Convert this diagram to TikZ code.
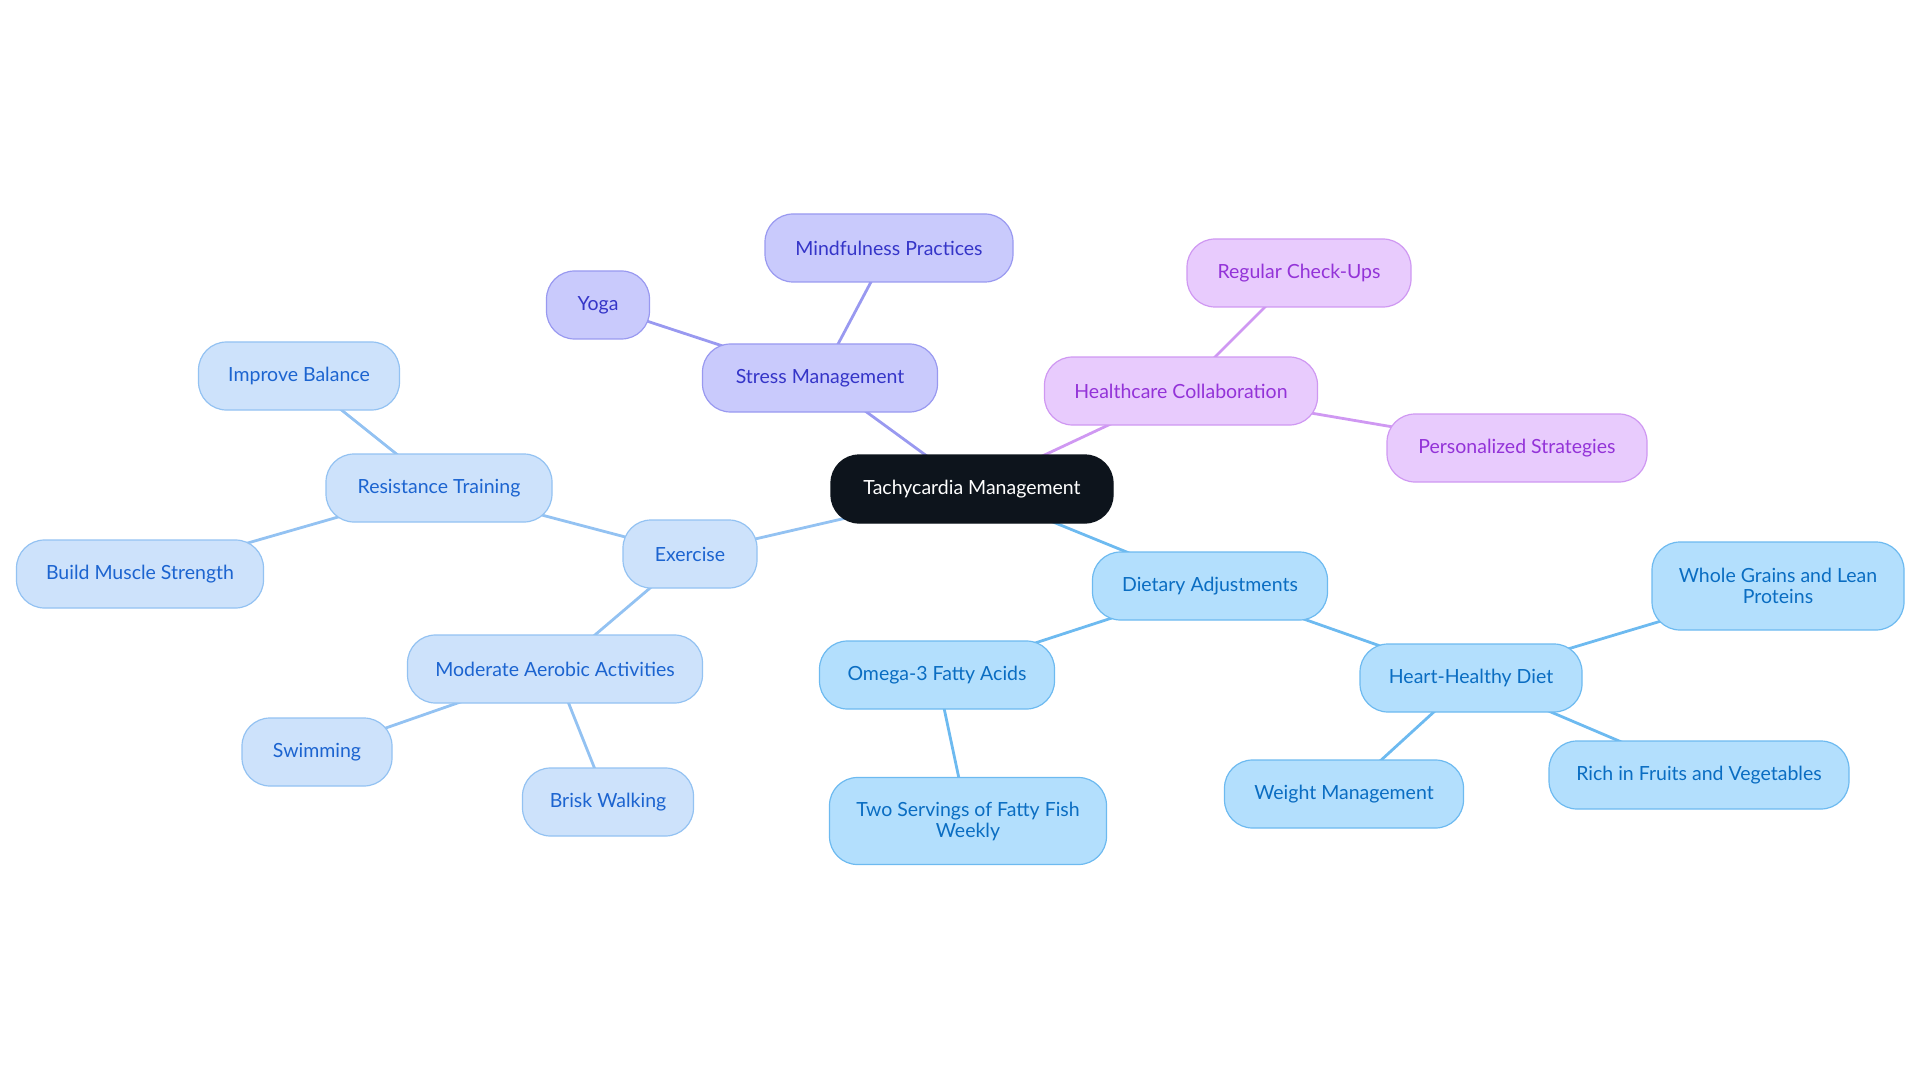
\documentclass[tikz,border=0pt]{standalone}
\usepackage{fontspec}
\setmainfont{Lato}
\usetikzlibrary{backgrounds}
\definecolor{exfill}{HTML}{CDE2FB}
\definecolor{exline}{HTML}{93C2F2}
\definecolor{extext}{HTML}{1C64D0}
\definecolor{dafill}{HTML}{B3DFFD}
\definecolor{daline}{HTML}{6DBAF0}
\definecolor{datext}{HTML}{0A6DC2}
\definecolor{smfill}{HTML}{C9CAFC}
\definecolor{smline}{HTML}{9999F0}
\definecolor{smtext}{HTML}{3535C8}
\definecolor{hcfill}{HTML}{E8CBFD}
\definecolor{hcline}{HTML}{CF98F2}
\definecolor{hctext}{HTML}{9333D8}
\definecolor{rootfill}{HTML}{0D141C}
\tikzset{
  box/.style={rounded corners=28pt, line width=1.2pt, minimum height=68pt, inner sep=0pt,
    font=\fontsize{19.5}{21}\selectfont, align=center},
  exbox/.style={box, fill=exfill, draw=exline, text=extext},
  dabox/.style={box, fill=dafill, draw=daline, text=datext},
  smbox/.style={box, fill=smfill, draw=smline, text=smtext},
  hcbox/.style={box, fill=hcfill, draw=hcline, text=hctext},
  rootbox/.style={box, fill=rootfill, draw=rootfill, text=white},
  link/.style={line width=2.8pt},
  exlink/.style={link, draw=exline},
  dalink/.style={link, draw=daline},
  smlink/.style={link, draw=smline},
  hclink/.style={link, draw=hcline},
}
\begin{document}
\begin{tikzpicture}[x=1pt,y=-1pt]
\useasboundingbox (0,0) rectangle (1920,1083);
\node[rootbox, minimum width=282pt] (tm) at (972,489) {Tachycardia Management};
\node[smbox, minimum width=235pt] (sm) at (820,378) {Stress Management};
\node[smbox, minimum width=248pt] (mp) at (889,248) {Mindfulness Practices};
\node[smbox, minimum width=103pt] (yoga) at (598,305) {Yoga};
\node[hcbox, minimum width=273pt] (hc) at (1181,391) {Healthcare Collaboration};
\node[hcbox, minimum width=224pt] (rc) at (1299,273) {Regular Check-Ups};
\node[hcbox, minimum width=260pt] (ps) at (1517,448) {Personalized Strategies};
\node[dabox, minimum width=235pt] (da) at (1210,586) {Dietary Adjustments};
\node[dabox, minimum width=222pt] (hh) at (1471,678) {Heart-Healthy Diet};
\node[dabox, minimum width=252pt, minimum height=88pt] (wg) at (1778,586) {Whole Grains and Lean\\Proteins};
\node[dabox, minimum width=300pt] (rf) at (1699,775) {Rich in Fruits and Vegetables};
\node[dabox, minimum width=239pt] (wm) at (1344,794) {Weight Management};
\node[dabox, minimum width=235pt] (om) at (937,675) {Omega-3 Fatty Acids};
\node[dabox, minimum width=277pt, minimum height=87pt] (tf) at (968,821) {Two Servings of Fatty Fish\\Weekly};
\node[exbox, minimum width=134pt] (ex) at (690,554) {Exercise};
\node[exbox, minimum width=226pt] (rt) at (439,488) {Resistance Training};
\node[exbox, minimum width=201pt] (ib) at (299,376) {Improve Balance};
\node[exbox, minimum width=247pt] (bm) at (140,574) {Build Muscle Strength};
\node[exbox, minimum width=295pt] (ma) at (555,669) {Moderate Aerobic Activities};
\node[exbox, minimum width=150pt] (sw) at (317,752) {Swimming};
\node[exbox, minimum width=171pt] (bw) at (608,802) {Brisk Walking};
\begin{pgfonlayer}{background}
\draw[smlink] (tm.center) -- (sm.center);
\draw[smlink] (sm.center) -- (mp.center);
\draw[smlink] (sm.center) -- (yoga.center);
\draw[hclink] (tm.center) -- (hc.center);
\draw[hclink] (hc.center) -- (rc.center);
\draw[hclink] (hc.center) -- (ps.center);
\draw[dalink] (tm.center) -- (da.center);
\draw[dalink] (da.center) -- (hh.center);
\draw[dalink] (hh.center) -- (wg.center);
\draw[dalink] (hh.center) -- (rf.center);
\draw[dalink] (hh.center) -- (wm.center);
\draw[dalink] (da.center) -- (om.center);
\draw[dalink] (om.center) -- (tf.center);
\draw[exlink] (tm.center) -- (ex.center);
\draw[exlink] (ex.center) -- (rt.center);
\draw[exlink] (rt.center) -- (ib.center);
\draw[exlink] (rt.center) -- (bm.center);
\draw[exlink] (ex.center) -- (ma.center);
\draw[exlink] (ma.center) -- (sw.center);
\draw[exlink] (ma.center) -- (bw.center);
\end{pgfonlayer}
\end{tikzpicture}
\end{document}
